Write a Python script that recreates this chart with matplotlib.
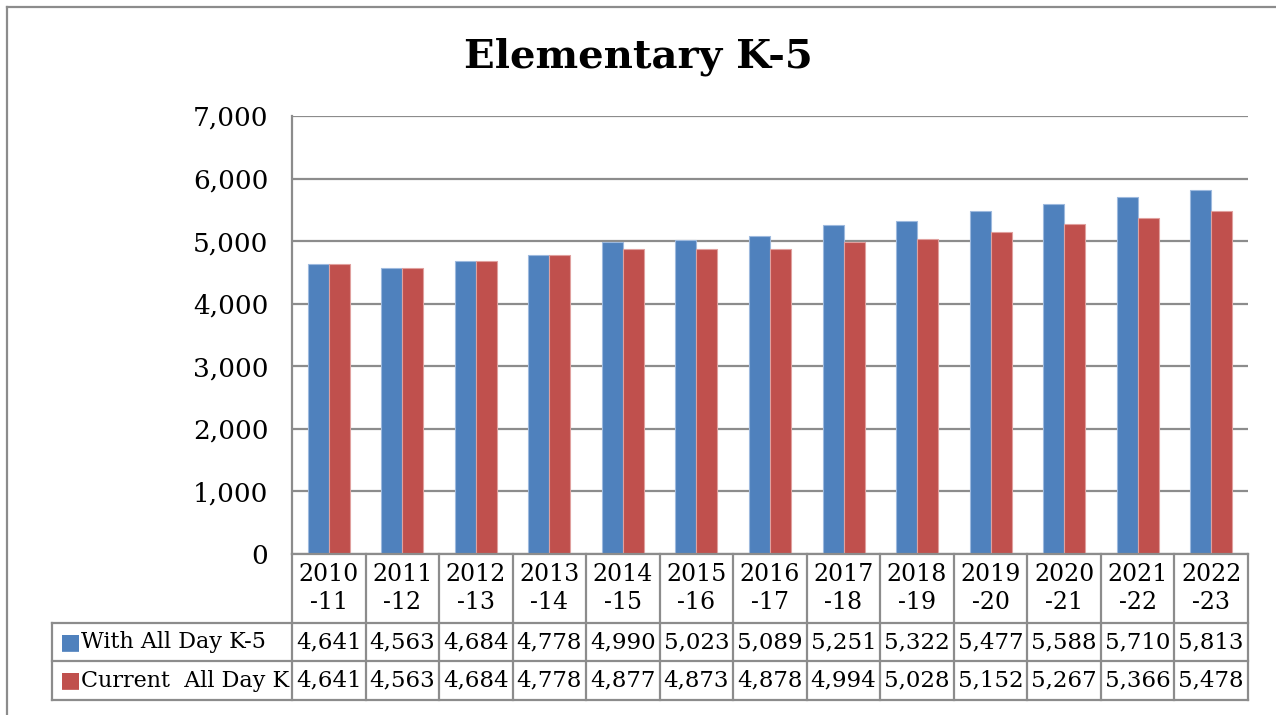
import matplotlib.pyplot as plt
import matplotlib.transforms as mtransforms
from matplotlib.lines import Line2D
import numpy as np

years = ["2010\n-11", "2011\n-12", "2012\n-13", "2013\n-14", "2014\n-15", "2015\n-16",
         "2016\n-17", "2017\n-18", "2018\n-19", "2019\n-20", "2020\n-21", "2021\n-22", "2022\n-23"]
with_all_day = [4641, 4563, 4684, 4778, 4990, 5023, 5089, 5251, 5322, 5477, 5588, 5710, 5813]
current_all_day = [4641, 4563, 4684, 4778, 4877, 4873, 4878, 4994, 5028, 5152, 5267, 5366, 5478]
series_names = ["With All Day K-5", "Current  All Day K"]
colors = ["#4F81BD", "#C0504D"]
gray = "#8C8C8C"

plt.rcParams['font.family'] = ['DejaVu Serif']
FS = 16

fig = plt.figure(figsize=(12.76, 7.15), dpi=100)
W, H = 1276.0, 715.0
x0, x1, ytop, ybot = 292, 1248, 116, 554
ax = fig.add_axes([x0 / W, 1 - ybot / H, (x1 - x0) / W, (ybot - ytop) / H])

n = len(years)
x = np.arange(n)
bw = 0.286
ax.bar(x - bw / 2, with_all_day, bw, color=colors[0], edgecolor="#9DB9DE", linewidth=0.8)
ax.bar(x + bw / 2, current_all_day, bw, color=colors[1], edgecolor="#E0A09E", linewidth=0.8)

ax.set_xlim(-0.5, n - 0.5)
ax.set_ylim(0, 7000)
ax.set_yticks(range(0, 7001, 1000))
ax.set_yticklabels(["{:,}".format(v) for v in range(0, 7001, 1000)], fontsize=19)
ax.tick_params(axis="y", length=0, pad=17)
ax.set_xticks([])
ax.yaxis.grid(True, color=gray, linewidth=1.6)
ax.set_axisbelow(True)
for s in ["top", "right"]:
    ax.spines[s].set_visible(False)
for s in ["left", "bottom"]:
    ax.spines[s].set_color(gray)
    ax.spines[s].set_linewidth(1.6)

# data table under the plot (x in data units, y in axes fraction)
trans = mtransforms.blended_transform_factory(ax.transData, ax.transAxes)
axh = ybot - ytop
colw = (x1 - x0) / n
def fy(py):
    return -(py - ybot) / axh
lab_left = -0.5 - (x0 - 52) / colw
y_head, y_r1, y_r2 = fy(623), fy(661), fy(700)
lk = dict(color=gray, linewidth=1.6, transform=trans, clip_on=False)

for i in range(n + 1):
    ax.plot([i - 0.5, i - 0.5], [0, y_r2], **lk)
for yy in (y_head, y_r1, y_r2):
    ax.plot([lab_left, n - 0.5], [yy, yy], **lk)
ax.plot([lab_left, lab_left], [y_head, y_r2], **lk)

for i, lab in enumerate(years):
    ax.text(i, (0 + y_head) / 2, lab, transform=trans, ha="center", va="center",
            fontsize=FS + 1, linespacing=1.3)
for r, vals in enumerate([with_all_day, current_all_day]):
    yc = (y_head + y_r1) / 2 if r == 0 else (y_r1 + y_r2) / 2
    for i, v in enumerate(vals):
        ax.text(i, yc, "{:,}".format(v), transform=trans, ha="center", va="center",
                fontsize=FS + 0.5)
    ax.text(lab_left + 0.11, yc, "\u25A0", transform=trans, ha="left", va="center",
            fontsize=FS, color=colors[r], family="DejaVu Sans")
    ax.text(lab_left + 0.4, yc, series_names[r], transform=trans, ha="left",
            va="center", fontsize=FS)

fig.suptitle("Elementary K-5", fontsize=29, fontweight="bold", y=1 - 57 / H, va="center")

# outer chart border
fig.add_artist(Line2D([7 / W, 7 / W], [0, 1 - 7 / H], color=gray, linewidth=1.6))
fig.add_artist(Line2D([7 / W, 1], [1 - 7 / H, 1 - 7 / H], color=gray, linewidth=1.6))

fig.savefig("out.png", dpi=100)
